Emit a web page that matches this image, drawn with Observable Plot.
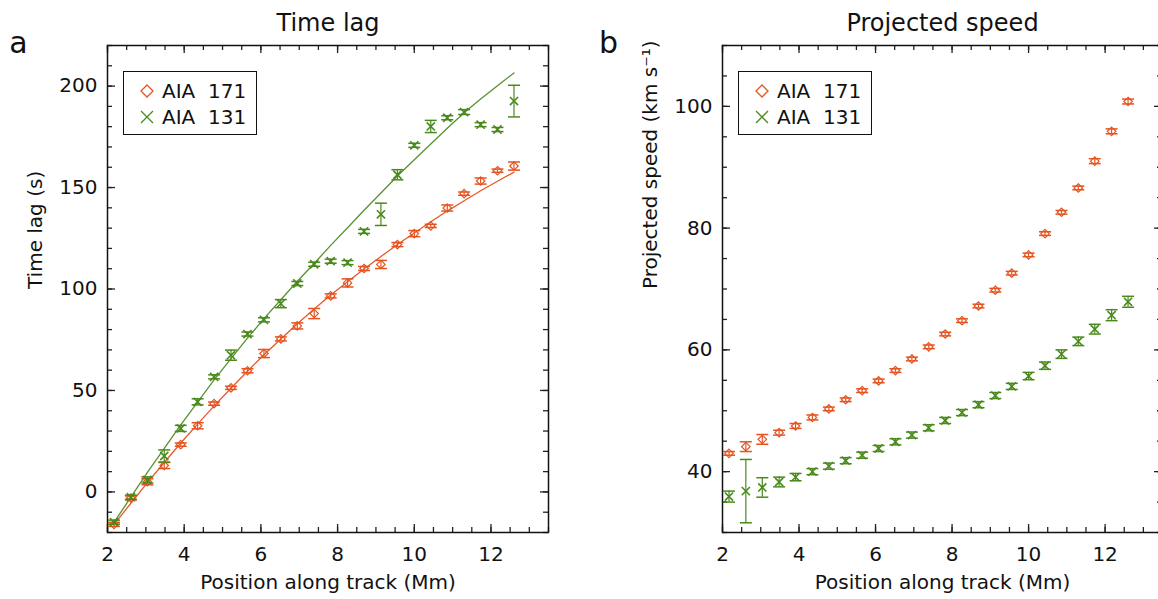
<!DOCTYPE html>
<html><head><meta charset="utf-8">
<script src="https://cdn.jsdelivr.net/npm/d3@7"></script>
<script src="https://cdn.jsdelivr.net/npm/@observablehq/plot@0.6"></script>
<style>
body{margin:0;background:#fff;}
#wrap{position:relative;width:1158px;height:599px;overflow:hidden;font-family:"DejaVu Sans",sans-serif;}
.panel{position:absolute;top:0;}
.legend{position:absolute;box-sizing:border-box;border:1.5px solid #111;background:#fff;width:134px;height:64px;font-size:20px;color:#111;}
.legend .row{position:absolute;left:0;height:26px;display:flex;align-items:center;}
.legend svg{margin-left:16px;margin-right:8px;}
</style></head>
<body><div id="wrap"></div>
<script>
// ---- data ----
const position = [2.17, 2.61, 3.04, 3.48, 3.91, 4.35, 4.78, 5.22, 5.65, 6.08, 6.52, 6.95, 7.39, 7.82, 8.26, 8.69, 9.13, 9.56, 10.0, 10.43, 10.86, 11.3, 11.73, 12.17, 12.6];

const lag171 = [-16.0, -3.0, 5.0, 13.0, 23.3, 32.6, 43.5, 51.3, 59.7, 68.2, 75.4, 81.8, 87.9, 96.6, 103.0, 110.1, 112.1, 121.9, 127.3, 131.1, 139.9, 147.0, 153.2, 158.3, 160.6];
const lag171Err = [1.0, 1.0, 1.5, 1.5, 0.8, 1.5, 0.8, 0.8, 1.0, 2.0, 1.0, 1.5, 2.5, 1.0, 2.0, 1.0, 2.0, 1.0, 1.5, 0.8, 1.5, 0.8, 1.5, 0.8, 2.0];
const lag131 = [-14.9, -2.6, 5.9, 17.7, 31.3, 44.4, 56.7, 67.4, 77.8, 84.8, 92.8, 102.7, 112.2, 113.7, 113.0, 128.4, 136.8, 156.3, 170.8, 180.1, 184.4, 187.2, 181.0, 178.6, 192.6];
const lag131Err = [1.0, 1.0, 1.5, 3.0, 1.5, 1.5, 1.0, 2.5, 1.0, 1.0, 2.0, 1.0, 1.0, 1.0, 1.0, 1.0, 5.5, 2.5, 1.0, 3.0, 1.0, 1.2, 1.0, 1.0, 7.8];

const fit171 = [-16.0, -5.6, 4.6, 14.5, 24.1, 33.4, 42.4, 51.1, 59.5, 67.6, 75.4, 82.9, 90.1, 97.0, 103.6, 109.9, 116.0, 121.9, 127.6, 133.1, 138.4, 143.5, 148.4, 153.1, 157.6];
const fit131 = [-15.0, -2.6, 9.6, 21.4, 33.0, 44.3, 55.2, 65.7, 75.8, 85.4, 94.7, 103.8, 112.6, 121.5, 130.2, 138.8, 147.3, 155.7, 163.7, 171.5, 179.2, 186.9, 193.6, 200.2, 206.5];

const speed171 = [43.0, 44.1, 45.3, 46.4, 47.5, 48.9, 50.3, 51.8, 53.3, 54.9, 56.6, 58.5, 60.5, 62.6, 64.8, 67.2, 69.8, 72.6, 75.6, 79.1, 82.6, 86.6, 91.0, 95.9, 100.8];
const speed171Err = [0.3, 0.8, 0.8, 0.4, 0.4, 0.4, 0.3, 0.3, 0.3, 0.3, 0.3, 0.3, 0.3, 0.3, 0.3, 0.3, 0.3, 0.3, 0.3, 0.3, 0.3, 0.3, 0.4, 0.4, 0.4];
const speed131 = [35.9, 36.8, 37.4, 38.3, 39.1, 40.0, 40.9, 41.8, 42.7, 43.8, 44.9, 46.0, 47.2, 48.4, 49.7, 51.0, 52.5, 54.0, 55.7, 57.4, 59.3, 61.4, 63.4, 65.7, 67.9];
const speed131Err = [0.9, 5.2, 1.6, 0.8, 0.6, 0.5, 0.5, 0.5, 0.5, 0.5, 0.5, 0.5, 0.5, 0.5, 0.5, 0.5, 0.5, 0.5, 0.6, 0.6, 0.7, 0.7, 0.8, 0.9, 0.9];

const xMajor = [2, 4, 6, 8, 10, 12];
const xMinor = d3.range(2, 13.51, 0.5);
const lagMajor = [0, 50, 100, 150, 200];
const lagMinor = d3.range(-20, 220.1, 10);
const speedMajor = [40, 60, 80, 100];
const speedMinor = d3.range(30, 110.1, 5);

const seriesNames = ["AIA 171", "AIA 131"];
const colors = {"AIA 171": "#e5531f", "AIA 131": "#4a8a1c"};
const lineColors = {"AIA 171": "#e8582a", "AIA 131": "#5a9130"};

// ---- helpers ----
const capSymbol = {draw(ctx, size) { const w = Math.sqrt(size / Math.PI); ctx.moveTo(-w, 0); ctx.lineTo(w, 0); }};
const rows = (ys, es, name) => position.map((x, i) => ({x, y: ys[i], e: es[i], name}));
const fitRows = (ys, name) => position.map((x, i) => ({x, y: ys[i], name}));

function panel({left, width, marginLeft, marginRight, yDomain, yMajor, yMinor, data, fits, title, letter, ylabel}) {
  const height = 599, marginTop = 45, marginBottom = 67;
  const fh = height - marginTop - marginBottom;
  const fw = width - marginLeft - marginRight;
  const tickStroke = {stroke: "#222", strokeWidth: 1.3};
  const marks = [
    Plot.ruleX(xMajor, {x: d => d, insetTop: fh - 8, ...tickStroke}),
    Plot.ruleX(xMajor, {x: d => d, insetBottom: fh - 8, ...tickStroke}),
    Plot.ruleX(xMinor, {x: d => d, insetTop: fh - 5, ...tickStroke}),
    Plot.ruleX(xMinor, {x: d => d, insetBottom: fh - 5, ...tickStroke}),
    Plot.ruleY(yMajor, {y: d => d, insetRight: fw - 8, ...tickStroke}),
    Plot.ruleY(yMajor, {y: d => d, insetLeft: fw - 8, ...tickStroke}),
    Plot.ruleY(yMinor, {y: d => d, insetRight: fw - 5, ...tickStroke}),
    Plot.ruleY(yMinor, {y: d => d, insetLeft: fw - 5, ...tickStroke}),
    Plot.frame({stroke: "#111", strokeWidth: 1.5}),
    Plot.axisX({ticks: xMajor, tickSize: 0, tickPadding: 14, tickFormat: d => String(d), label: null, fontSize: 20, fill: "#111"}),
    Plot.axisY({ticks: yMajor, tickSize: 0, tickPadding: 10, tickFormat: d => String(d), label: null, fontSize: 20, fill: "#111"}),
  ];
  if (fits) {
    for (const f of fits) marks.push(Plot.line(f, {x: "x", y: "y", stroke: d => lineColors[d.name], strokeWidth: 1.3}));
  }
  for (const s of data) {
    const name = s[0].name;
    const sym = name === "AIA 171" ? "diamond2" : "times";
    marks.push(
      Plot.ruleX(s, {x: "x", y1: d => d.y - d.e, y2: d => d.y + d.e, stroke: colors[name], strokeWidth: 1.2}),
      Plot.dot(s, {x: "x", y: d => d.y + d.e, symbol: capSymbol, r: 6, stroke: colors[name], strokeWidth: 1.5}),
      Plot.dot(s, {x: "x", y: d => d.y - d.e, symbol: capSymbol, r: 6, stroke: colors[name], strokeWidth: 1.5}),
      Plot.dot(s, {x: "x", y: "y", symbol: sym, r: 3.8, stroke: colors[name], strokeWidth: name === "AIA 171" ? 1.2 : 1.6})
    );
  }
  marks.push(
    Plot.text([title], {text: d => d, frameAnchor: "top", lineAnchor: "middle", dy: -22, fontSize: 24, fill: "#111"}),
    Plot.text([letter], {text: d => d, frameAnchor: "top-left", lineAnchor: "middle", dx: left === 0 ? -89 : -114, dy: -2, fontSize: 30, fill: "#111", textAnchor: "middle"}),
    Plot.text([ylabel], {text: d => d, frameAnchor: "left", dx: -72, rotate: -90, fontSize: 20, fill: "#111"}),
    Plot.text(["Position along track (Mm)"], {text: d => d, frameAnchor: "bottom", lineAnchor: "middle", dy: 50, fontSize: 20, fill: "#111"})
  );
  const chart = Plot.plot({
    width, height, marginLeft, marginRight, marginTop, marginBottom,
    style: {fontFamily: "DejaVu Sans, sans-serif", fontSize: "20px", background: "transparent", overflow: "hidden"},
    x: {domain: [2, 13.5]},
    y: {domain: yDomain},
    marks
  });
  chart.classList.add("panel");
  chart.style.left = left + "px";
  return chart;
}

const wrap = document.getElementById("wrap");
wrap.appendChild(panel({
  left: 0, width: 580, marginLeft: 107, marginRight: 32,
  yDomain: [-20, 220], yMajor: lagMajor, yMinor: lagMinor,
  data: [rows(lag171, lag171Err, "AIA 171"), rows(lag131, lag131Err, "AIA 131")],
  fits: [fitRows(fit171, "AIA 171"), fitRows(fit131, "AIA 131")],
  title: "Time lag", letter: "a", ylabel: "Time lag (s)"
}));
wrap.appendChild(panel({
  left: 580, width: 578, marginLeft: 142, marginRight: -4,
  yDomain: [30, 110], yMajor: speedMajor, yMinor: speedMinor,
  data: [rows(speed171, speed171Err, "AIA 171"), rows(speed131, speed131Err, "AIA 131")],
  fits: null,
  title: "Projected speed", letter: "b", ylabel: "Projected speed (km s\u207B\u00B9)"
}));

// legends
function legend(left, top) {
  const div = document.createElement("div");
  div.className = "legend";
  div.style.left = left + "px";
  div.style.top = top + "px";
  seriesNames.forEach((name, i) => {
    const row = document.createElement("div");
    row.className = "row";
    row.style.top = (6 + i * 26) + "px";
    const c = colors[name];
    const icon = name === "AIA 171"
      ? `<svg width="14" height="14" viewBox="-7 -7 14 14"><path d="M0,-6L6,0L0,6L-6,0Z" fill="none" stroke="${c}" stroke-width="1.3"/></svg>`
      : `<svg width="14" height="14" viewBox="-7 -7 14 14"><path d="M-6,-6L6,6M-6,6L6,-6" fill="none" stroke="${c}" stroke-width="1.3"/></svg>`;
    row.innerHTML = icon + `<span style="white-space:pre">${name.replace(" ", "  ")}</span>`;
    div.appendChild(row);
  });
  wrap.appendChild(div);
}
legend(123, 71);
legend(738, 71);
</script>
</body></html>
